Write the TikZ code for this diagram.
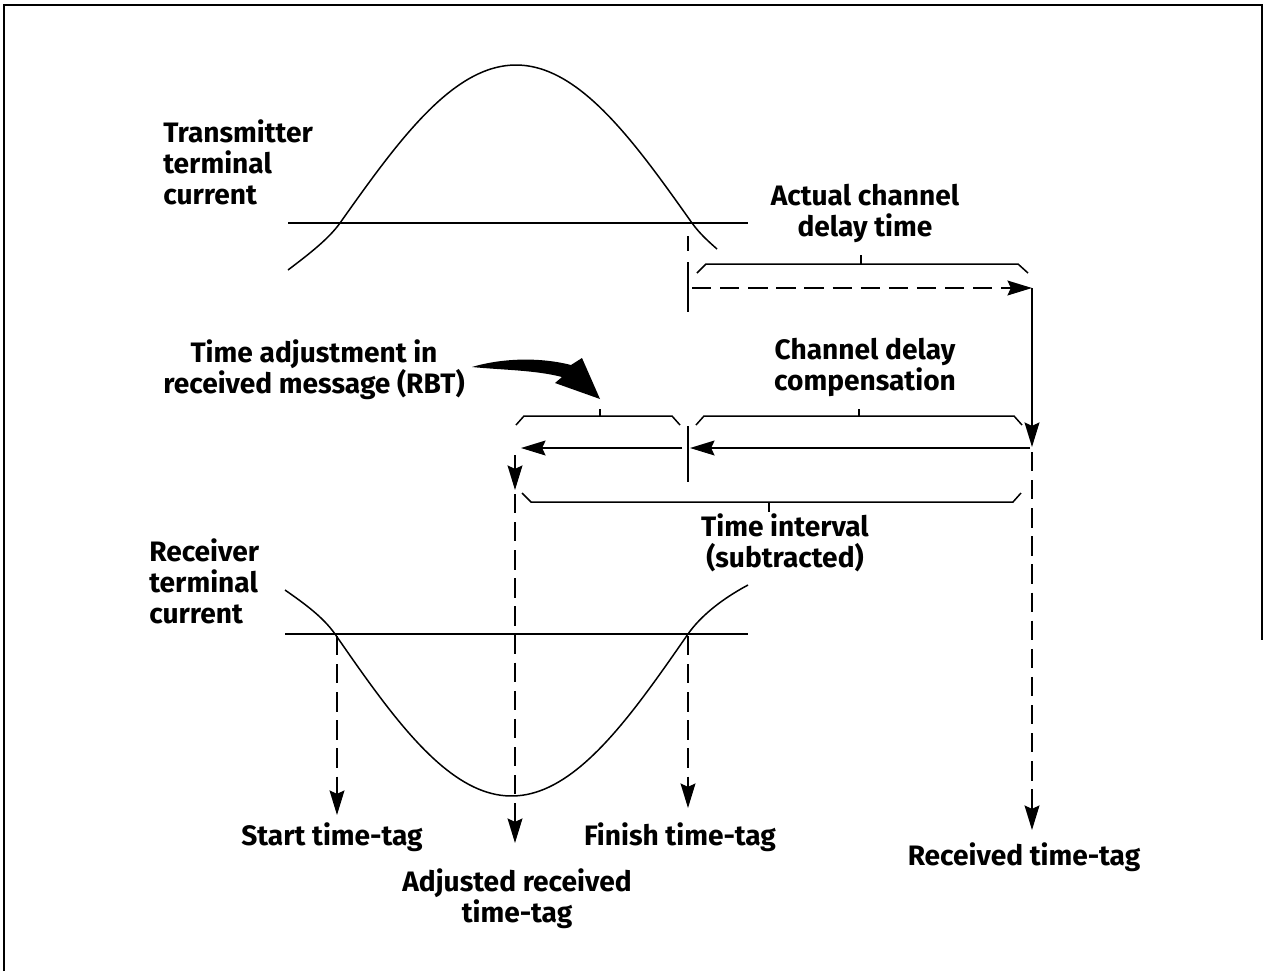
\documentclass[tikz,border=0pt]{standalone}
\usepackage{fontspec}
\setmainfont{Fira Sans}
\usetikzlibrary{arrows.meta}
\begin{document}
\begin{tikzpicture}[x=0.02cm,y=-0.02cm,
  lbl/.style={font=\bfseries\fontsize{16}{17.6}\selectfont, inner sep=0pt, align=center},
  thinln/.style={line width=0.85pt},
  dashln/.style={line width=0.85pt, dash pattern=on 11pt off 5pt},
  tipped/.style={-{Stealth[length=14pt,width=8.5pt,inset=2pt]}},
  bracket/.style={line width=0.85pt},
  frame/.style={line width=1.4pt}
]
\useasboundingbox (0,0) rectangle (1265,971);
% frame
\draw[frame] (4,971) -- (4,5) -- (1262,5) -- (1262,640);

% labels
\node[lbl, align=left, anchor=west] (tx) at (163,162) {Transmitter\\terminal\\current};
\node[lbl, align=left, anchor=west] (rx) at (149,581) {Receiver\\terminal\\current};
\node[lbl] (acd) at (865,213) {Actual channel\\delay time};
\node[lbl] (cdc) at (865,367) {Channel delay\\compensation};
\node[lbl] (tadj) at (314,370) {Time adjustment in\\received message (RBT)};
\node[lbl] (ti) at (785,543) {Time interval\\(subtracted)};
\node[lbl] (start) at (332,837) {Start time-tag};
\node[lbl] (finish) at (680,837) {Finish time-tag};
\node[lbl] (recv) at (1024,857) {Received time-tag};
\node[lbl] (adj) at (517,899) {Adjusted received\\time-tag};

% transmitter waveform
\draw[thinln] (288,223) -- (748,223);
\draw[thinln] (288,270) .. controls (305,257) and (328,240) .. (340,223)
  -- plot[domain=340:692, samples=80] (\x, {223-158*sin(0.511364*(\x-340))})
  .. controls (700,234) and (708,241) .. (717,249);

% receiver waveform
\draw[thinln] (285,634) -- (748,634);
\draw[thinln] (285,590) .. controls (305,604) and (323,617) .. (335,634)
  -- plot[domain=335:688, samples=80] (\x, {634+162*sin(0.509915*(\x-335))})
  .. controls (700,617) and (720,600) .. (748,585);

% coordinates
\coordinate (da0) at (692,288);
\coordinate (rv0) at (1032,288);
\coordinate (rv1) at (1032,447);
\coordinate (rv2) at (1032,452);
\coordinate (rv3) at (1032,830);
\coordinate (c0) at (1030,448);
\coordinate (c1) at (690,448);
\coordinate (a0) at (682,448);
\coordinate (a1) at (521,448);
\coordinate (s0) at (515,455);
\coordinate (s1) at (515,490);
\coordinate (s2) at (515,494);
\coordinate (s3) at (515,843);
\coordinate (st0) at (337,636);
\coordinate (st1) at (337,815);
\coordinate (f0) at (688,636);
\coordinate (f1) at (688,808);

% upper divider
\draw[thinln] (688,236) -- (688,251);
\draw[thinln] (688,262) -- (688,312);
% lower divider
\draw[thinln] (688,426) -- (688,482);

% brackets
\draw[bracket] (697,273) -- (706,264) -- (1018,264) -- (1028,273);
\draw[bracket] (861,264) -- (861,255);
\draw[bracket] (516,425) -- (524,416) -- (672,416) -- (680,425);
\draw[bracket] (600,416) -- (600,409);
\draw[bracket] (696,425) -- (704,416) -- (1014,416) -- (1022,425);
\draw[bracket] (859,416) -- (859,409);
\draw[bracket] (522,493) -- (531,502) -- (1013,502) -- (1021,493);
\draw[bracket] (769,502) -- (769,512);

% arrows
\draw[dashln, tipped] (da0) -- (rv0);
\draw[thinln, tipped] (rv0) -- (rv1);
\draw[dashln, tipped] (rv2) -- (rv3);
\draw[thinln, tipped] (c0) -- (c1);
\draw[thinln, tipped] (a0) -- (a1);
\draw[thinln, tipped] (s0) -- (s1);
\draw[dashln, tipped] (s2) -- (s3);
\draw[dashln, tipped] (st0) -- (st1);
\draw[dashln, tipped] (f0) -- (f1);

% curved thick arrow
\fill (472,367) .. controls (502,358) and (540,357) .. (571,365) -- (582,358) -- (600,399) -- (555,383) -- (562,377) .. controls (535,370) and (502,370) .. (472,367) -- cycle;
\end{tikzpicture}
\end{document}
